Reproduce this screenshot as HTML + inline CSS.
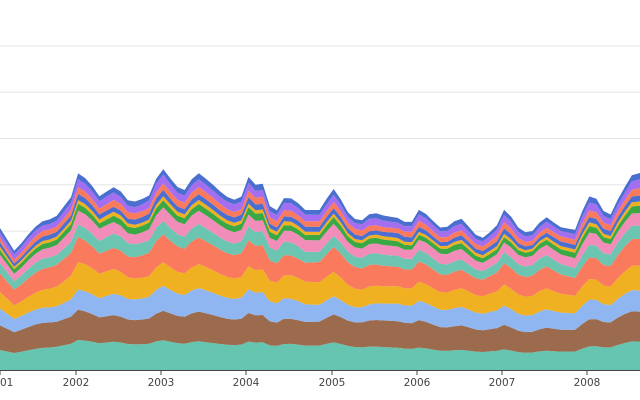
<!DOCTYPE html>
<html><head><meta charset="utf-8"><style>
body{margin:0;background:#fff;width:640px;height:400px;overflow:hidden}
svg{display:block}
text{font-family:"DejaVu Sans","Liberation Sans",sans-serif;font-size:10.5px;fill:#444}
</style></head><body>
<svg id="s" width="640" height="400" xmlns="http://www.w3.org/2000/svg">
<g id="grid"></g><g id="areas"></g>
<line x1="0" y1="370.5" x2="640" y2="370.5" stroke="#444" stroke-width="1"/>
<g id="ticks"></g>
</svg>
<script>
(function(){
var NS="http://www.w3.org/2000/svg";
function el(n,a,p){var e=document.createElementNS(NS,n);for(var k in a)e.setAttribute(k,a[k]);p.appendChild(e);return e;}
var base=370;
var g=document.getElementById('grid');
for(var i=1;i<8;i++){var y=base-i*46.3;el('line',{x1:0,x2:640,y1:y,y2:y,stroke:'#e5e5e5','stroke-width':1},g);}
var env=[[0,228],[15,252],[25,238],[40,222],[55,218],[65,205],[72,196],[76,172],[88,180],[100,197],[112,187],[118,188],[130,203],[140,200],[150,195],[161,166],[170,178],[180,190],[186,190],[196,171],[210,182],[225,196],[240,202],[247,175],[255,185],[262,181],[268,205],[278,211],[285,196],[295,200],[305,210],[320,210],[333,188],[340,198],[350,216],[360,222],[372,212],[385,216],[398,218],[410,225],[420,208],[432,220],[443,230],[460,217],[470,228],[480,240],[490,232],[495,232],[502,208],[510,215],[520,230],[530,234],[545,216],[560,227],[575,230],[588,196],[600,200],[607,222],[620,195],[632,175],[640,173]];
function topAt(x){for(var i=0;i<env.length-1;i++){if(x<=env[i+1][0]){var a=env[i],b=env[i+1];return a[1]+(b[1]-a[1])*(x-a[0])/(b[0]-a[0]);}}return env[env.length-1][1];}
var w=[28,31,23,25,26,14,13,7,4,6,7,8,6];
var cols=['#66c5b0','#9c6b4e','#8fb6f0','#efb022','#fa7a5e','#6cc5b0','#f28cb8','#3aa845','#efb022','#4a6fd0','#fa7a5e','#a36ef0','#4a6fd0'];
var xs=[];for(var x=0;x<=640;x+=7.1)xs.push(x);xs.push(640);
var cum=xs.map(function(){return base;});
var ar=document.getElementById('areas');
for(var L=0;L<w.length;L++){
 var lower=cum.slice();
 var upper=xs.map(function(x,i){
  var T=base-topAt(x);
  var tot=0,ws=[];for(var k=0;k<w.length;k++){var v=w[k]*(1+0.08*Math.sin(x*0.02*(k+1)*0.37+k*1.7)+0.05*Math.sin(x*0.011*(k+2)+k));ws.push(v);tot+=v;}
  var s=0;for(var k=0;k<=L;k++)s+=ws[k];
  return base-T*s/tot;});
 var d='M'+xs.map(function(x,i){return x.toFixed(1)+','+upper[i].toFixed(1);}).join('L');
 for(var i=xs.length-1;i>=0;i--)d+='L'+xs[i].toFixed(1)+','+lower[i].toFixed(1);
 el('path',{d:d+'Z',fill:cols[L],stroke:'none'},ar);
 cum=upper;
}
var tk=document.getElementById('ticks');
var yrs=[[0,'2001'],[76,'2002'],[161,'2003'],[246,'2004'],[332,'2005'],[417,'2006'],[502,'2007'],[587,'2008']];
yrs.forEach(function(t){el('line',{x1:t[0],x2:t[0],y1:370,y2:375,stroke:'#444'},tk);var e=el('text',{x:t[0],y:386,'text-anchor':'middle'},tk);e.textContent=t[1];});
})();
</script>
</body></html>
